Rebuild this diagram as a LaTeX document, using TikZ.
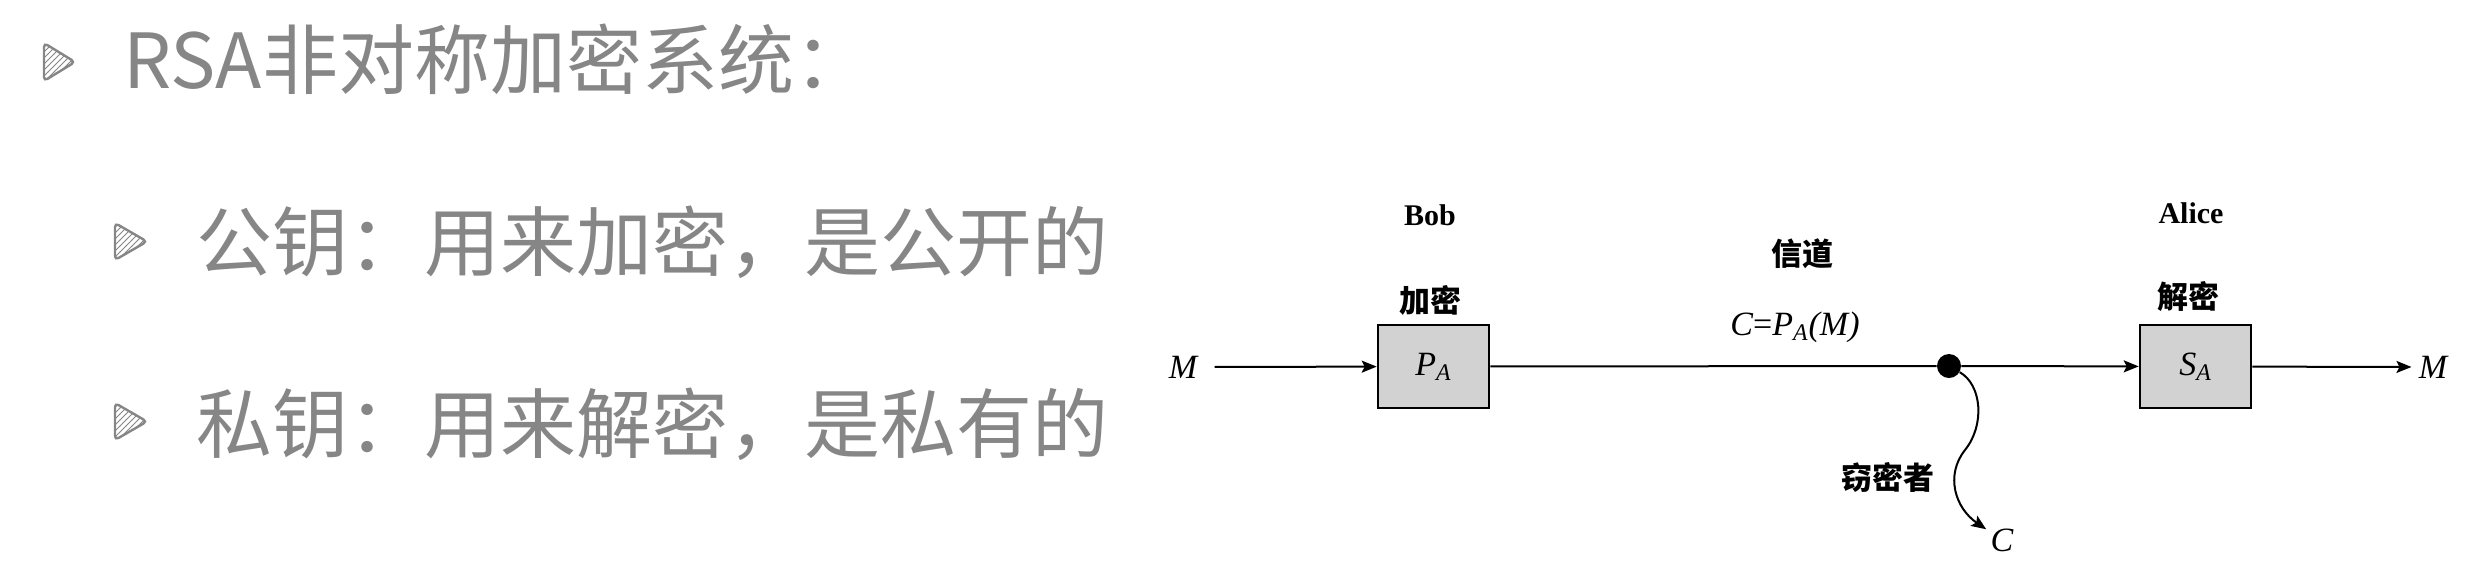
\documentclass[tikz,border=0pt]{standalone}
\usepackage{fontspec}
\setmainfont{Liberation Serif}
\newfontfamily\cjk{Noto Sans CJK SC}
\usetikzlibrary{arrows.meta,patterns}
\definecolor{slidegray}{RGB}{134,134,134}
\definecolor{boxgray}{RGB}{210,210,210}

\begin{document}
\begin{tikzpicture}[x=0.5pt, y=-0.5pt,
    item/.style={anchor=base west, inner sep=0pt, text=slidegray, font=\cjk\fontsize{38}{44}\selectfont},
    bullet/.style={draw=slidegray, line width=1.2pt, rounded corners=2pt, pattern=north east lines, pattern color=slidegray},
    keybox/.style={draw, line width=1.3pt, fill=boxgray, minimum width=55.5pt, minimum height=41.5pt, inner sep=0pt, font=\fontsize{17}{20}\selectfont\itshape},
    who/.style={inner sep=0pt, font=\fontsize{15}{18}\selectfont\bfseries},
    cjklbl/.style={inner sep=0pt, font=\cjk\bfseries\fontsize{15.5}{18}\selectfont},
    var/.style={inner sep=0pt, font=\fontsize{17}{20}\selectfont\itshape},
    arr/.style={line width=1pt, -{Stealth[length=7.5pt,width=6pt,inset=1.5pt]}}]
    \useasboundingbox (0,0) rectangle (2492,570);

    % Slide text
    \draw[bullet] (44,43) -- (75,62) -- (44,81) -- cycle;
    \draw[bullet] (115,223) -- (147,241.5) -- (115,260) -- cycle;
    \draw[bullet] (115,403) -- (147,421.5) -- (115,440) -- cycle;
    \node[item] (t0) at (123,88) {RSA非对称加密系统：};
    \node[item] (t1) at (196,270) {公钥：用来加密，是公开的};
    \node[item] (t2) at (196,452) {私钥：用来解密，是私有的};

    % Nodes
    \node[var] (m1) at (1183,367) {M};
    \node[keybox] (pa) at (1433.5,366.5) {P\textsubscript{A}};
    \node[circle, fill, inner sep=0pt, minimum size=12pt] (e) at (1949,366) {};
    \node[keybox] (sa) at (2195.5,366.5) {S\textsubscript{A}};
    \node[var] (m2) at (2433,367) {M};
    \node[var, inner sep=2pt] (c) at (2002,540) {C};
    \coordinate (w) at (1965,450);

    % Labels
    \node[who] (bob) at (1430,215) {Bob};
    \node[who] (alice) at (2191,213) {Alice};
    \node[cjklbl] (enc) at (1430,300) {加密};
    \node[cjklbl] (dec) at (2188,297) {解密};
    \node[cjklbl] (chan) at (1802,254) {信道};
    \node[var] (cpm) at (1795,327) {C{\upshape=}P\textsubscript{A}(M)};
    \node[cjklbl] (spy) at (1888,477) {窃密者};

    % Edges
    \draw[arr, shorten <=8.5pt] (m1) -- (pa);
    \draw[line width=1pt] (pa) -- (e);
    \draw[arr] (e) -- (sa);
    \draw[arr, shorten >=3.5pt] (sa) -- (m2);
    \draw[arr] (e) .. controls (1982,385) and (1985,425) .. (w) .. controls (1945,475) and (1955,508) .. (c);
\end{tikzpicture}
\end{document}
